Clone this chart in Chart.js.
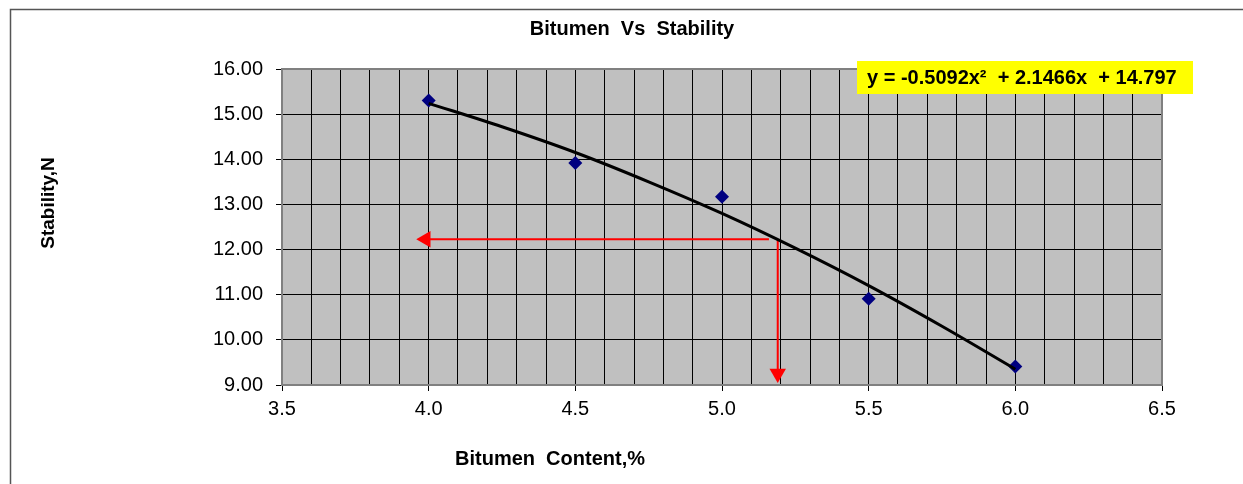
<!DOCTYPE html>
<html>
<head>
<meta charset="utf-8">
<title>Bitumen Vs Stability</title>
<script src="https://cdn.jsdelivr.net/npm/chart.js@4.4.1/dist/chart.umd.min.js"></script>
<style>
  body { margin: 0; background: #fff; }
  #wrap { width: 1243px; height: 484px; position: relative; }
</style>
</head>
<body>
<div id="wrap"><canvas id="stabilityChart" width="1243" height="484"></canvas></div>
<script>
// measured points (bitumen %, stability)
const bitumen = [4.0, 4.5, 5.0, 5.5, 6.0];
const stability = [15.30, 13.92, 13.17, 10.91, 9.41];

// poly trendline
const trendX = [4.0, 4.25, 4.5, 4.75, 5.0, 5.25, 5.5, 5.75, 6.0];
const trendY = [15.24, 14.72, 14.15, 13.50, 12.80, 12.03, 11.20, 10.30, 9.35];

// red read-off arrows
const arrowHX = [5.16, 3.99];
const arrowHY = [12.23, 12.23];
const arrowVX = [5.19, 5.19];
const arrowVY = [12.21, 9.255];

const xTickLabels = ['3.5', '4.0', '4.5', '5.0', '5.5', '6.0', '6.5'];
const yTickLabels = ['9.00', '10.00', '11.00', '12.00', '13.00', '14.00', '15.00', '16.00'];

const titleText = 'Bitumen  Vs  Stability';
const xTitle = 'Bitumen  Content,%';
const yTitle = 'Stability,N';
const equation = 'y = -0.5092x\u00B2  + 2.1466x  + 14.797';

const fontFamily = '"Liberation Sans", Arial, sans-serif';

function isMajor(v) {
    return xTickLabels.indexOf(v.toFixed(1)) !== -1 && Math.abs(v * 2 - Math.round(v * 2)) < 1e-6;
}

const toPts = (xs, ys) => xs.map((x, i) => ({ x: x, y: ys[i] }));

// grey plot area + top/right frame
const plotAreaPlugin = {
    id: 'plotArea',
    beforeDraw(chart) {
        const { ctx, chartArea } = chart;
        ctx.save();
        ctx.fillStyle = '#C0C0C0';
        ctx.fillRect(chartArea.left, chartArea.top, chartArea.right - chartArea.left, chartArea.bottom - chartArea.top);
        // outer chart frame
        ctx.strokeStyle = '#555555';
        ctx.lineWidth = 1.5;
        ctx.beginPath();
        ctx.moveTo(10.5, 484);
        ctx.lineTo(10.5, 9.5);
        ctx.lineTo(1243, 9.5);
        ctx.stroke();
        ctx.restore();
    },
    beforeDatasetsDraw(chart) {
        const { ctx, chartArea } = chart;
        ctx.save();
        ctx.strokeStyle = '#808080';
        ctx.lineWidth = 2;
        ctx.beginPath();
        ctx.moveTo(chartArea.left, chartArea.top);
        ctx.lineTo(chartArea.right, chartArea.top);
        ctx.lineTo(chartArea.right, chartArea.bottom);
        ctx.stroke();
        ctx.restore();
    }
};

// titles and the trendline equation label
const labelsPlugin = {
    id: 'labels',
    afterDraw(chart) {
        const ctx = chart.ctx;
        ctx.save();
        ctx.fillStyle = '#000';
        ctx.textBaseline = 'middle';
        ctx.textAlign = 'center';
        ctx.font = 'bold 20px ' + fontFamily;
        ctx.fillText(titleText, 632, 29);
        ctx.fillText(xTitle, 550, 459);

        ctx.save();
        ctx.translate(49, 203);
        ctx.rotate(-Math.PI / 2);
        ctx.font = 'bold 19px ' + fontFamily;
        ctx.fillText(yTitle, 0, 0);
        ctx.restore();

        ctx.fillStyle = '#FFFF00';
        ctx.fillRect(857, 61, 336, 33);
        ctx.fillStyle = '#000';
        ctx.textAlign = 'left';
        ctx.font = 'bold 20px ' + fontFamily;
        ctx.fillText(equation, 867, 78);
        ctx.restore();
    }
};

const canvas = document.getElementById('stabilityChart');

new Chart(canvas, {
    type: 'scatter',
    data: {
        datasets: [
            {
                label: 'Trend',
                data: toPts(trendX, trendY),
                showLine: true,
                borderColor: '#000000',
                borderWidth: 3,
                pointRadius: 0,
                cubicInterpolationMode: 'monotone',
                order: 0
            },
            {
                label: 'Stability',
                data: toPts(bitumen, stability),
                pointStyle: 'rectRot',
                pointRadius: 7,
                backgroundColor: '#000080',
                borderColor: '#000080',
                borderWidth: 0,
                order: 2
            },
            {
                label: 'Read-off horizontal',
                data: toPts(arrowHX, arrowHY),
                showLine: true,
                borderColor: '#FF0000',
                borderWidth: 2,
                pointStyle: 'triangle',
                pointRotation: 270,
                pointRadius: [0, 9.5],
                pointBackgroundColor: '#FF0000',
                pointBorderWidth: 0,
                order: 1
            },
            {
                label: 'Read-off vertical',
                data: toPts(arrowVX, arrowVY),
                showLine: true,
                borderColor: '#FF0000',
                borderWidth: 2,
                pointStyle: 'triangle',
                pointRotation: 180,
                pointRadius: [0, 9.5],
                pointBackgroundColor: '#FF0000',
                pointBorderWidth: 0,
                order: 1
            }
        ]
    },
    options: {
        responsive: false,
        animation: false,
        events: [],
        layout: { padding: { left: 0, top: 69, right: 81, bottom: 0 } },
        plugins: {
            legend: { display: false },
            tooltip: { enabled: false }
        },
        scales: {
            x: {
                type: 'linear',
                min: 3.5,
                max: 6.5,
                afterFit: function(scale) { scale.height = 99; },
                ticks: {
                    stepSize: 0.1,
                    autoSkip: false,
                    maxRotation: 0,
                    minRotation: 0,
                    padding: 6,
                    color: '#000',
                    font: { family: fontFamily, size: 20 },
                    callback: function(value) {
                        return isMajor(value) ? value.toFixed(1) : '';
                    }
                },
                grid: {
                    color: '#000000',
                    lineWidth: 1,
                    tickLength: 6,
                    tickColor: function(c) {
                        return (c.tick && isMajor(c.tick.value)) ? '#000000' : 'rgba(0,0,0,0)';
                    }
                },
                border: { color: '#808080', width: 2 }
            },
            y: {
                type: 'linear',
                min: 9,
                max: 16,
                afterFit: function(scale) { scale.width = 282; },
                ticks: {
                    stepSize: 1,
                    padding: 13,
                    color: '#000',
                    font: { family: fontFamily, size: 20 },
                    callback: function(value) {
                        const lbl = value.toFixed(2);
                        return yTickLabels.indexOf(lbl) !== -1 ? lbl : '';
                    }
                },
                grid: {
                    color: '#000000',
                    lineWidth: 1,
                    tickLength: 6,
                    tickColor: '#000000'
                },
                border: { color: '#808080', width: 2 }
            }
        }
    },
    plugins: [plotAreaPlugin, labelsPlugin]
});
</script>
</body>
</html>
